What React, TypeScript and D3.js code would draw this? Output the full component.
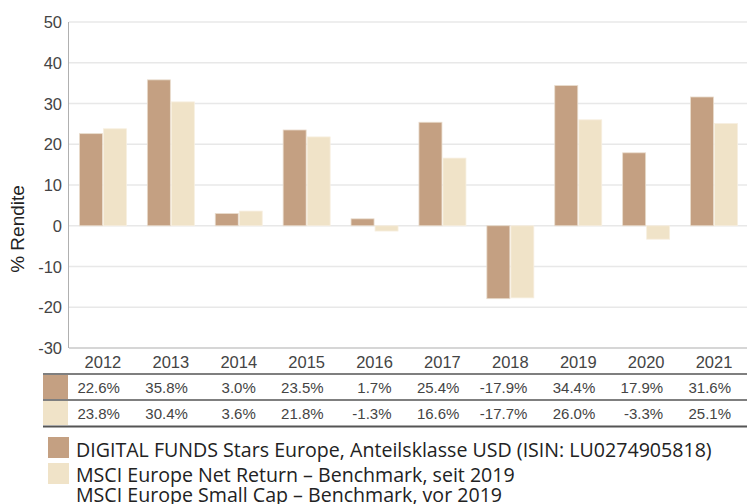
import React from "react";
import * as d3 from "d3";

const years = ["2012", "2013", "2014", "2015", "2016", "2017", "2018", "2019", "2020", "2021"];
const fundValues = [22.6, 35.8, 3.0, 23.5, 1.7, 25.4, -17.9, 34.4, 17.9, 31.6];
const benchValues = [23.8, 30.4, 3.6, 21.8, -1.3, 16.6, -17.7, 26.0, -3.3, 25.1];
const yTicks = [-30, -20, -10, 0, 10, 20, 30, 40, 50];
const legendLines = [
  "DIGITAL FUNDS Stars Europe, Anteilsklasse USD (ISIN: LU0274905818)",
  "MSCI Europe Net Return – Benchmark, seit 2019",
  "MSCI Europe Small Cap – Benchmark, vor 2019",
];

const FUND = "#c4a082";
const BENCH = "#f0e3c8";
const W = 747, H = 504;
const m = { left: 69, right: 748, top: 22, bottom: 348 };
const font = "'Liberation Sans', Arial, sans-serif";

export default function App() {
  const x = d3.scaleBand().domain(years).range([m.left, m.right]);
  const y = d3.scaleLinear().domain([-30, 50]).range([m.bottom, m.top]);
  const barW = 23;
  const rows = [
    { color: FUND, values: fundValues, top: 375 },
    { color: BENCH, values: benchValues, top: 401 },
  ];

  return (
    <svg width={W} height={H} style={{ position: "absolute", left: 0, top: 0, background: "#fff" }}>
      {yTicks.map(t => (
        <g key={t}>
          <line x1={m.left} x2={W} y1={y(t)} y2={y(t)} stroke={t === -30 ? "#c8c8c8" : "#e8e8e8"} strokeWidth={1.5} />
          <text x={62} y={y(t) + 6} textAnchor="end" fontFamily={font} fontSize={16.5} fill="#444">{t}</text>
        </g>
      ))}
      <line x1={m.left - 0.5} x2={m.left - 0.5} y1={m.top} y2={m.bottom} stroke="#b0b0b0" strokeWidth={1} />
      <text transform={`translate(24,229) rotate(-90)`} textAnchor="middle"
        fontFamily={font} fontSize={19} fill="#222">% Rendite</text>

      {years.map((yr, i) => {
        const cx = x(yr)! + x.bandwidth() / 2;
        const f = fundValues[i], b = benchValues[i];
        return (
          <g key={yr}>
            <rect x={cx - barW - 0.5} width={barW} y={y(Math.max(0, f))} height={Math.abs(y(f) - y(0))}
              fill={FUND} stroke="#e9dccd" strokeWidth={0.8} />
            <rect x={cx + 0.5} width={barW} y={y(Math.max(0, b))} height={Math.abs(y(b) - y(0))}
              fill={BENCH} stroke="#f7efe0" strokeWidth={0.8} />
            <text x={cx} y={368} textAnchor="middle" fontFamily={font} fontSize={16.5} fill="#444">{yr}</text>
          </g>
        );
      })}

      {/* table */}
      {rows.map((r, ri) => (
        <g key={ri}>
          <rect x={43} y={r.top} width={25} height={24} fill={r.color} />
          {r.values.map((v, i) => (
            <text key={i} x={x(years[i])! + x.bandwidth() / 2 + 17} y={r.top + 18} textAnchor="end"
              fontFamily={font} fontSize={15} fill="#444">{v.toFixed(1)}%</text>
          ))}
        </g>
      ))}
      {[374, 400, 426.5].map((ly, i) => (
        <line key={i} x1={43} x2={W} y1={ly} y2={ly} stroke="#555" strokeWidth={i === 2 ? 2 : 1.5} />
      ))}

      {/* legend */}
      <rect x={48} y={437} width={21} height={21} fill={FUND} />
      <rect x={48} y={463} width={21} height={21} fill={BENCH} />
      {legendLines.map((t, i) => (
        <text key={i} x={76} y={[457, 482, 502][i]} fontFamily="'Open Sans', sans-serif" fontSize={19.6}
          fill="#222">{t}</text>
      ))}
    </svg>
  );
}
